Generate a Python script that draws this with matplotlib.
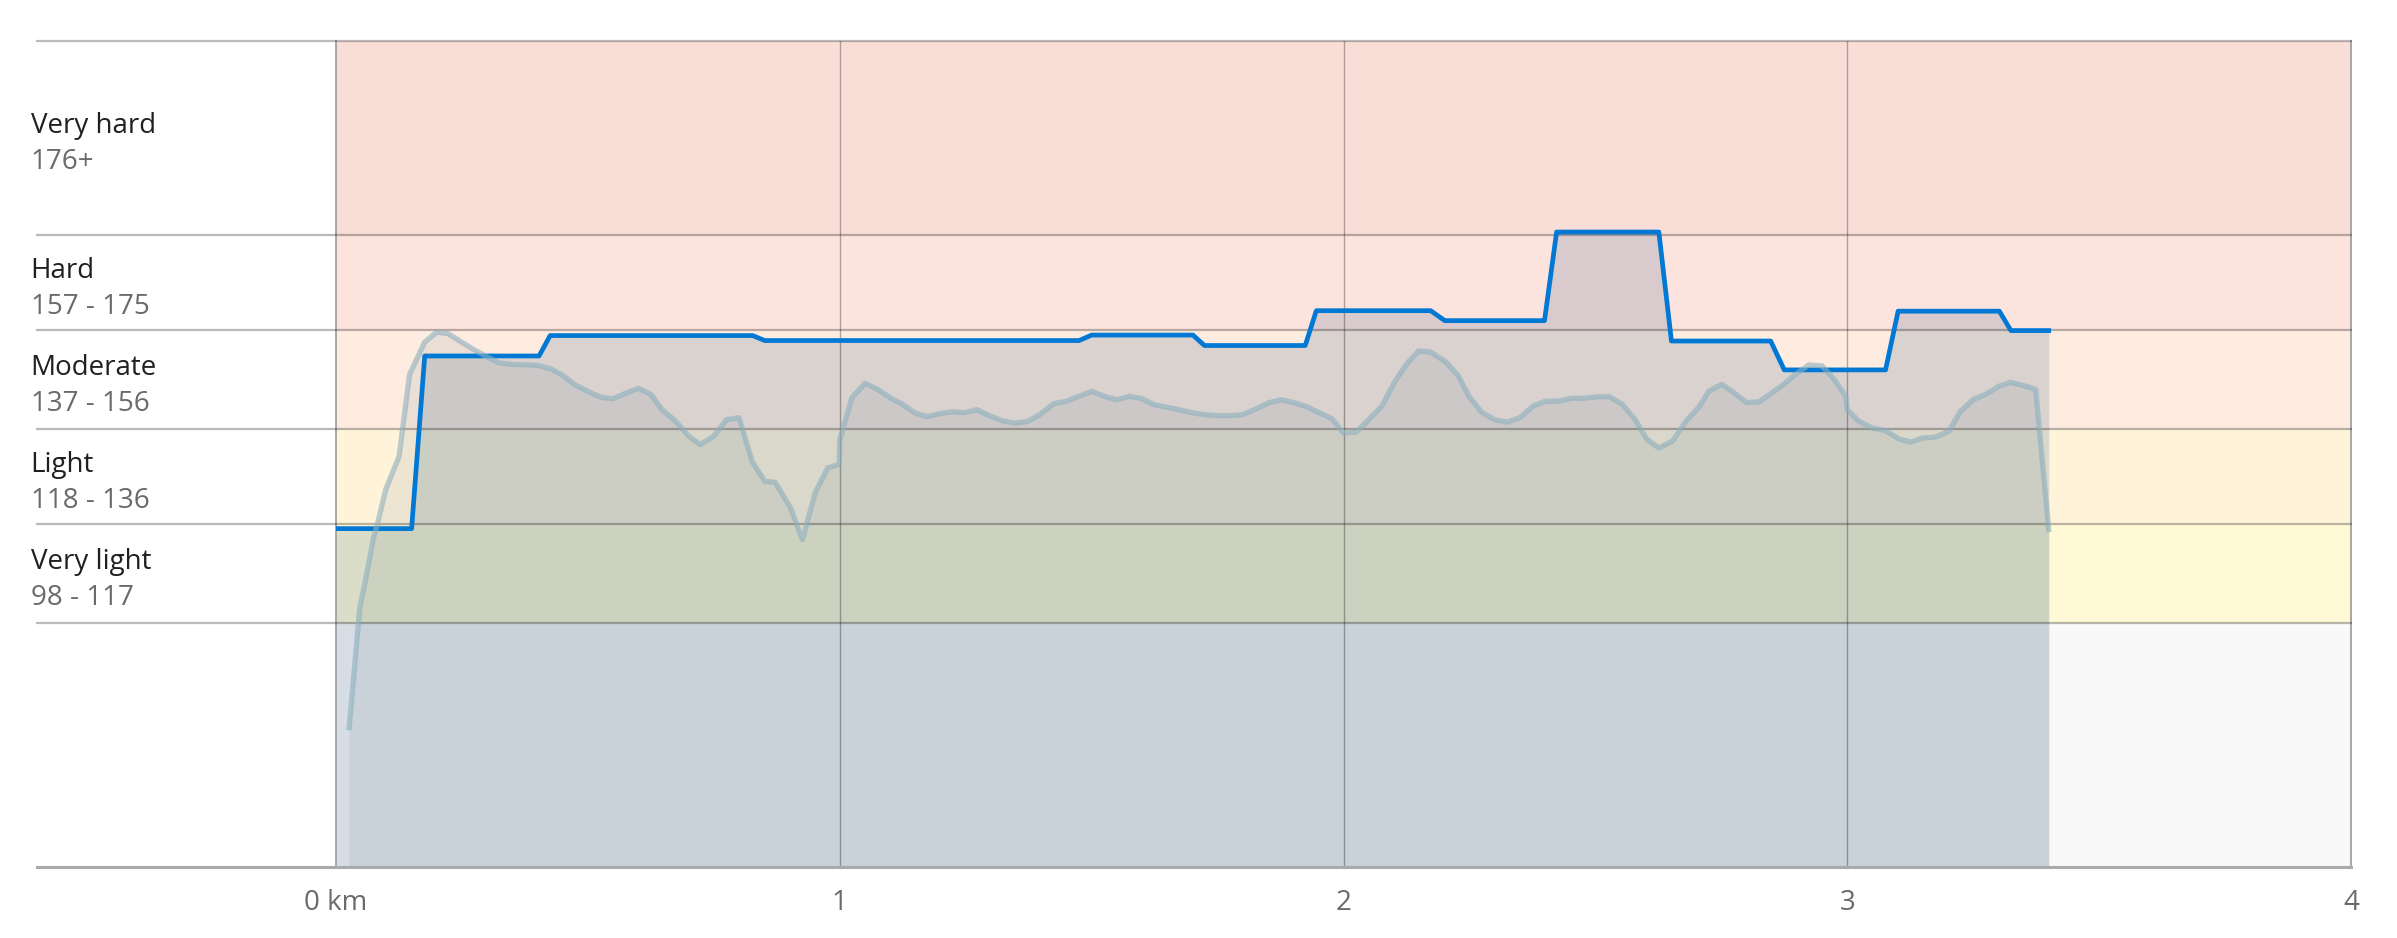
import matplotlib.pyplot as plt
from matplotlib.transforms import blended_transform_factory

plt.rcParams['font.family'] = ['Open Sans', 'DejaVu Sans']

# heart rate zones
zone_names = ["Very light", "Light", "Moderate", "Hard", "Very hard"]
zone_ranges = ["98 - 117", "118 - 136", "137 - 156", "157 - 175", "176+"]
zone_lower = [98, 118, 137, 157, 176]
zone_colors = ["#FFF9D5", "#FFF3DA", "#FDECDF", "#FDE3DD", "#F9DED7"]
below_color = "#F9F9F9"
y_min, y_max = 49, 215

# heart rate trace (km, bpm)
hr_km = [0.026, 0.047, 0.059, 0.074, 0.081, 0.099, 0.125, 0.146, 0.176, 0.200,
         0.222, 0.252, 0.275, 0.298, 0.324, 0.351, 0.381, 0.400, 0.427, 0.450,
         0.473, 0.495, 0.526, 0.549, 0.575, 0.600, 0.625, 0.647, 0.674, 0.700,
         0.723, 0.750, 0.775, 0.800, 0.826, 0.851, 0.872, 0.902, 0.926, 0.951,
         0.976, 0.999, 1.000, 1.024, 1.050, 1.075, 1.100, 1.123, 1.148, 1.173,
         1.198, 1.223, 1.248, 1.272, 1.297, 1.322, 1.347, 1.372, 1.397, 1.425,
         1.450, 1.475, 1.500, 1.525, 1.550, 1.575, 1.600, 1.624, 1.649, 1.674,
         1.699, 1.724, 1.749, 1.774, 1.799, 1.823, 1.852, 1.877, 1.902, 1.927,
         1.952, 1.977, 2.000, 2.025, 2.046, 2.076, 2.102, 2.127, 2.149, 2.173,
         2.203, 2.228, 2.249, 2.274, 2.300, 2.325, 2.350, 2.376, 2.401, 2.426,
         2.452, 2.477, 2.503, 2.528, 2.553, 2.579, 2.602, 2.626, 2.653, 2.680,
         2.706, 2.725, 2.751, 2.775, 2.801, 2.825, 2.848, 2.874, 2.897, 2.924,
         2.950, 2.974, 2.997, 3.000, 3.023, 3.050, 3.076, 3.103, 3.126, 3.149,
         3.175, 3.202, 3.225, 3.251, 3.275, 3.301, 3.324, 3.351, 3.374, 3.400]
hr_bpm = [77.0, 101.0, 107.0, 115.0, 117.5, 125.0, 131.5, 148.0, 154.5, 156.5,
          156.2, 154.3, 152.9, 151.6, 150.3, 150.0, 149.9, 149.8, 149.1, 147.8,
          146.0, 144.8, 143.4, 143.1, 144.2, 145.2, 144.0, 140.9, 138.6, 135.6,
          133.9, 135.6, 138.9, 139.3, 130.5, 126.5, 126.3, 121.2, 114.8, 124.2,
          129.2, 129.9, 134.9, 143.3, 146.2, 145.0, 143.3, 142.1, 140.3, 139.5,
          140.1, 140.5, 140.3, 140.9, 139.7, 138.7, 138.2, 138.5, 139.9, 142.1,
          142.6, 143.6, 144.6, 143.6, 142.9, 143.6, 143.1, 141.9, 141.4, 140.9,
          140.3, 139.9, 139.7, 139.7, 139.9, 140.9, 142.3, 142.9, 142.3, 141.5,
          140.3, 139.1, 136.2, 136.4, 138.5, 141.6, 146.6, 150.3, 152.7, 152.5,
          150.5, 147.7, 143.6, 140.4, 138.9, 138.4, 139.3, 141.6, 142.6, 142.6,
          143.2, 143.2, 143.5, 143.5, 142.0, 138.9, 135.0, 133.2, 134.6, 138.6,
          141.5, 144.6, 146.0, 144.3, 142.3, 142.5, 144.1, 146.0, 148.0, 149.9,
          149.7, 147.0, 143.6, 140.9, 138.6, 137.2, 136.7, 135.0, 134.4, 135.2,
          135.4, 136.6, 140.6, 143.0, 144.0, 145.6, 146.4, 145.7, 145.0, 116.8]

# average heart rate per segment
lap_km = [0.0, 0.150, 0.176, 0.403, 0.425, 0.827, 0.851, 1.475, 1.500, 1.701,
          1.724, 1.924, 1.946, 2.173, 2.201, 2.399, 2.423, 2.626, 2.651, 2.848,
          2.875, 3.076, 3.101, 3.302, 3.325, 3.400]
lap_bpm = [117.0, 117.0, 151.7, 151.7, 155.8, 155.8, 154.8, 154.8, 155.9, 155.9,
           153.8, 153.8, 160.8, 160.8, 158.8, 158.8, 176.6, 176.6, 154.7, 154.7,
           148.9, 148.9, 160.7, 160.7, 156.8, 156.8]

fig = plt.figure(figsize=(23.97, 9.38), dpi=100)
ax = fig.add_axes([0.1402, 0.0757, 0.9808 - 0.1402, 0.9563 - 0.0757])
ax.set_xlim(0, 4)
ax.set_ylim(y_min, y_max)

# zone bands
ax.axhspan(y_min, zone_lower[0], color=below_color, lw=0, zorder=0)
uppers = zone_lower[1:] + [y_max]
for lo, hi, c in zip(zone_lower, uppers, zone_colors):
    ax.axhspan(lo, hi, color=c, lw=0, zorder=0)

# filled areas
ax.fill_between(lap_km, lap_bpm, y_min, color="#4A6D90", alpha=0.2, lw=0, zorder=1)
ax.fill_between(hr_km, hr_bpm, y_min, color="#6E8091", alpha=0.12, lw=0, zorder=2)

# grid
for xv in [1, 2, 3]:
    ax.axvline(xv, color="black", alpha=0.3, lw=1, zorder=3)
trans = blended_transform_factory(fig.transFigure, ax.transData)
for yv in zone_lower + [y_max]:
    ax.plot([0.0155, 0.9808], [yv, yv], transform=trans, color="black",
            alpha=0.27, lw=1.6, clip_on=False, zorder=3)
ax.plot([0.0155, 0.9808], [y_min, y_min], transform=trans, color="#AAAAAA",
        lw=2.2, clip_on=False, zorder=3)

# lines
ax.plot(lap_km, lap_bpm, color="#0078D4", lw=3.4, zorder=4)
ax.plot(hr_km, hr_bpm, color="#8CAFBE", alpha=0.6, lw=3.8, zorder=5,
        solid_joinstyle="round")

# zone labels
for name, rng, lo, hi in zip(zone_names, zone_ranges, zone_lower, uppers):
    mid = (lo + hi) / 2
    ax.annotate(name, xy=(0.0128, mid), xycoords=trans, xytext=(0, 8.5),
                textcoords="offset points", va="center", ha="left",
                fontsize=20, color="#202020")
    ax.annotate(rng, xy=(0.0128, mid), xycoords=trans, xytext=(0, -17.5),
                textcoords="offset points", va="center", ha="left",
                fontsize=20, color="#6A6A6A")

ax.set_xticks([0, 1, 2, 3, 4])
ax.set_xticklabels(["0 km", "1", "2", "3", "4"])
ax.set_yticks([])
ax.tick_params(axis="x", length=0, pad=16, labelsize=20, labelcolor="#6A6A6A")
for s in ["top", "bottom"]:
    ax.spines[s].set_visible(False)
for s in ["left", "right"]:
    ax.spines[s].set_color("#999999")
    ax.spines[s].set_linewidth(1.2)

plt.savefig("out.png", dpi=100)
